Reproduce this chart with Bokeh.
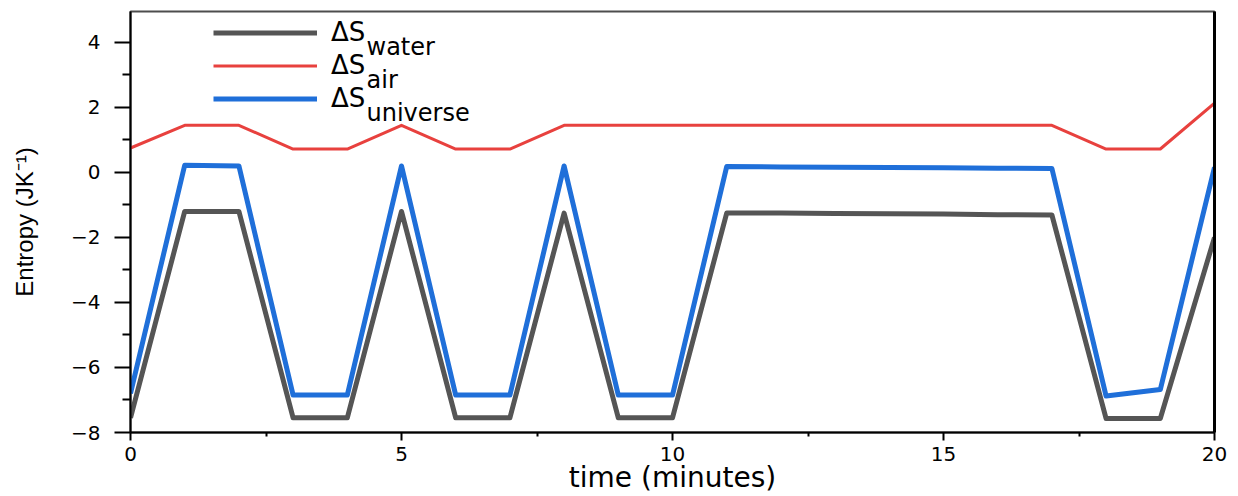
from bokeh.plotting import figure
from bokeh.models import Range1d, LinearAxis, FixedTicker, Legend, LegendItem, Label
from bokeh.embed import file_html
from bokeh.resources import INLINE

# ---- data ----
time_min = list(range(21))
ds_water = [-7.55, -1.2, -1.2, -7.55, -7.55, -1.2, -7.55, -7.55, -1.25, -7.55, -7.55,
            -1.25, -1.25, -1.26, -1.27, -1.28, -1.3, -1.31, -7.57, -7.57, -2.0]
ds_air = [0.75, 1.45, 1.45, 0.72, 0.72, 1.45, 0.72, 0.72, 1.45, 1.45, 1.45,
          1.45, 1.45, 1.45, 1.45, 1.45, 1.45, 1.45, 0.72, 0.72, 2.13]
ds_universe = [-6.8, 0.22, 0.2, -6.85, -6.85, 0.2, -6.85, -6.85, 0.2, -6.85, -6.85,
               0.18, 0.17, 0.16, 0.15, 0.14, 0.13, 0.12, -6.88, -6.68, 0.16]
series_names = ["water", "air", "universe"]
x_ticks = [0, 5, 10, 15, 20]
x_minor_ticks = [2.5, 7.5, 12.5, 17.5]
y_ticks = [-8, -6, -4, -2, 0, 2, 4]
y_minor_ticks = [-7, -5, -3, -1, 1, 3]

FONT = "DejaVu Sans"

p = figure(width=1238, height=496, output_backend="svg", toolbar_location=None,
           x_range=Range1d(0, 20), y_range=Range1d(-8, 4.95),
           min_border_left=130, min_border_right=24, min_border_top=11,
           min_border_bottom=64, background_fill_color="white",
           border_fill_color="white")
p.grid.visible = False
p.outline_line_color = "#4d4d4d"
p.outline_line_width = 2

# x axis
xa = p.xaxis[0]
xa.ticker = FixedTicker(ticks=x_ticks, minor_ticks=x_minor_ticks)
xa.axis_label = "time (minutes)"
xa.axis_label_text_font = FONT
xa.axis_label_text_font_size = "28px"
xa.axis_label_text_font_style = "normal"
xa.axis_label_text_color = "black"
xa.axis_label_standoff = -3
xa.major_label_text_font = FONT
xa.major_label_text_font_size = "20px"
xa.major_label_text_color = "black"
xa.major_label_standoff = 6
xa.axis_line_width = 2
xa.axis_line_color = "black"
xa.major_tick_line_width = 2
xa.major_tick_line_color = "black"
xa.minor_tick_line_width = 2
xa.minor_tick_line_color = "black"
xa.major_tick_in = 0
xa.major_tick_out = 8
xa.minor_tick_in = 0
xa.minor_tick_out = 4

# y axis
ya = p.yaxis[0]
ya.ticker = FixedTicker(ticks=y_ticks, minor_ticks=y_minor_ticks)
ya.axis_label = "Entropy (JK\u207b\u00b9)"
ya.axis_label_text_font = "Liberation Sans"
ya.axis_label_text_font_size = "24px"
ya.axis_label_text_font_style = "normal"
ya.axis_label_text_color = "black"
ya.axis_label_standoff = 30
ya.major_label_text_font = FONT
ya.major_label_text_font_size = "20px"
ya.major_label_text_color = "black"
ya.major_label_standoff = 14
ya.axis_line_width = 2
ya.axis_line_color = "black"
ya.major_tick_line_width = 2
ya.major_tick_line_color = "black"
ya.minor_tick_line_width = 2
ya.minor_tick_line_color = "black"
ya.major_tick_in = 0
ya.major_tick_out = 16
ya.minor_tick_in = 0
ya.minor_tick_out = 8

# right frame line
ra = LinearAxis(ticker=FixedTicker(ticks=[]), axis_line_width=3, axis_line_color="black",
                major_tick_line_color=None, minor_tick_line_color=None)
p.add_layout(ra, "right")

# ---- series ----
r_w = p.line(time_min, ds_water, line_color="#555555", line_width=5, line_join="round")
r_a = p.line(time_min, ds_air, line_color="#e8413e", line_width=3, line_join="round")
r_u = p.line(time_min, ds_universe, line_color="#1f6fd9", line_width=5, line_join="round")

legend = Legend(items=[LegendItem(label="\u0394S", renderers=[r_w]),
                       LegendItem(label="\u0394S", renderers=[r_a]),
                       LegendItem(label="\u0394S", renderers=[r_u])],
                location=(83, 317.5), padding=0, margin=0, spacing=0,
                glyph_width=104, glyph_height=33, label_height=33,
                label_standoff=14, label_text_font=FONT,
                label_text_font_size="26px", label_text_color="black",
                border_line_color=None, background_fill_alpha=0)
p.add_layout(legend)

for i, name in enumerate(series_names):
    p.add_layout(Label(x=236, y=386 - 33 * i, x_units="screen", y_units="screen",
                       text=name, text_font=FONT, text_font_size="24px",
                       text_color="black", text_baseline="alphabetic"))

open("out.html", "w").write(file_html(p, INLINE))
